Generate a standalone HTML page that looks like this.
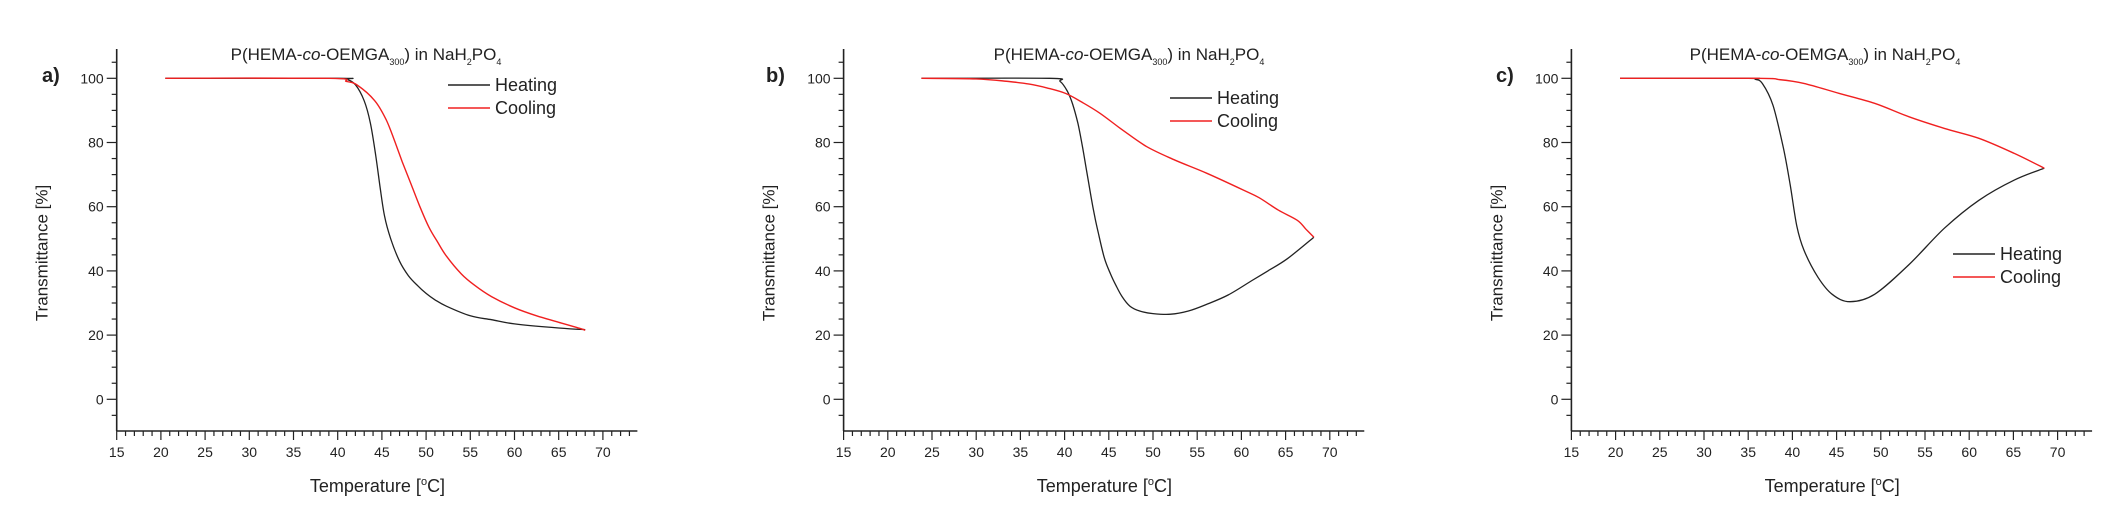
<!DOCTYPE html>
<html><head><meta charset="utf-8">
<style>
html,body{margin:0;padding:0;background:#fff;}
svg{display:block;}
text{font-family:"Liberation Sans",Arial,sans-serif;fill:#222;}
</style></head>
<body>
<svg id="s" width="2101" height="523" viewBox="0 0 2101 523" xmlns="http://www.w3.org/2000/svg"></svg>
<script>
const NS="http://www.w3.org/2000/svg";
const svg=document.getElementById('s');
function el(t,a,txt){const e=document.createElementNS(NS,t);for(const k in a)e.setAttribute(k,a[k]);if(txt!==undefined)e.textContent=txt;svg.appendChild(e);return e;}
function path(pts,X){
  const P=pts.map(p=>[X(p[0]),Y(p[1])]);
  let d="M"+P[0][0].toFixed(1)+","+P[0][1].toFixed(1);
  for(let i=0;i<P.length-1;i++){
    const p0=P[Math.max(0,i-1)],p1=P[i],p2=P[i+1],p3=P[Math.min(P.length-1,i+2)];
    const c1=[p1[0]+(p2[0]-p0[0])/6,p1[1]+(p2[1]-p0[1])/6];
    const c2=[p2[0]-(p3[0]-p1[0])/6,p2[1]-(p3[1]-p1[1])/6];
    d+=" C"+c1[0].toFixed(1)+","+c1[1].toFixed(1)+" "+c2[0].toFixed(1)+","+c2[1].toFixed(1)+" "+p2[0].toFixed(1)+","+p2[1].toFixed(1);
  }
  return d;
}
const Y=v=>399.3-v*3.21;
const panels=[
 {x0:116.7,lab:"a)",labx:42,tc:366,leg:[448,91],
  heat:[[20.5,100],[40,100],[41,99.7],[42,98],[43,93],[43.7,86],[44.3,76],[44.8,66],[45.3,57],[46,50],[47,43],[48,38.5],[49,35.5],[50,33],[51,31],[52.3,29],[55,26],[57.4,24.8],[60,23.5],[65,22.2],[68,21.7]],
  cool:[[20.5,100],[39,100],[41,99],[42.2,97.9],[44.2,93],[45.5,87],[46.5,80],[47.3,74],[48.3,67],[49.3,60],[50.3,53.7],[51.3,49],[52.3,44.6],[54,39],[55.5,35.5],[57.4,32],[60,28.5],[62.5,26],[65,24],[67.5,22],[68,21.5]]},
 {x0:843.6,lab:"b)",labx:766,tc:1129,leg:[1170,104],
  heat:[[23.8,100],[38.3,100],[39.5,99],[40.3,96],[40.9,92],[41.5,86],[42,79],[42.5,71],[43,63],[43.4,57],[43.8,52],[44.5,44],[45.2,39],[45.8,35.5],[46.5,32],[47.4,29],[48.5,27.5],[50,26.7],[52,26.5],[54,27.5],[56,29.5],[58.5,32.5],[61.2,37],[63,40],[65.2,43.8],[68.2,50.5]],
  cool:[[23.8,100],[30,99.8],[33.7,99],[36,98.2],[38,97],[40.1,95.3],[42,92.5],[44,89.1],[46.5,84],[49.3,78.7],[52.5,74.5],[56.1,70.4],[60.2,65.2],[62,62.8],[64.2,58.9],[66.3,55.8],[67.3,53],[68.2,50.5]]},
 {x0:1571.4,lab:"c)",labx:1496,tc:1825,leg:[1953,260],
  heat:[[20.5,100],[35,100],[35.8,99.7],[36.6,98.4],[37.8,91.6],[39,78],[39.75,66.8],[40.5,54],[41.3,46.5],[42.9,38],[44.5,32.7],[46.5,30.4],[49.3,32.7],[53.2,42],[57.2,53.3],[61.1,62],[65.1,68.3],[68.5,72]],
  cool:[[20.5,100],[36,100],[38.5,99.6],[41.3,98.4],[45.3,95.3],[49.3,92.2],[53.2,88],[57.2,84.4],[61.1,81.3],[65.1,76.6],[68.5,72]]}
];
panels.forEach(p=>{
  const X=t=>p.x0+(t-15)*8.84;
  const right=X(73.9), top=49, bot=431;
  el('line',{x1:p.x0,y1:top,x2:p.x0,y2:bot,stroke:'#222','stroke-width':1.6});
  el('line',{x1:p.x0,y1:bot,x2:right,y2:bot,stroke:'#222','stroke-width':1.6});
  for(let v=-5;v<=105;v+=5){
    const y=Y(v);const maj=v%20===0;
    el('line',{x1:p.x0-(maj?10:5),y1:y,x2:p.x0,y2:y,stroke:'#222','stroke-width':1.2});
    if(maj) el('text',{x:p.x0-13,y:y+5,'text-anchor':'end','font-size':14,fill:'#333'},String(v));
  }
  for(let t=15;t<=73;t++){
    const x=X(t);const maj=t%5===0;
    el('line',{x1:x,y1:bot,x2:x,y2:bot+(maj?9:5),stroke:'#222','stroke-width':1.2});
    if(maj) el('text',{x:x,y:457,'text-anchor':'middle','font-size':14,fill:'#333'},String(t));
  }
  el('text',{x:p.labx,y:82,'font-size':20,'font-weight':'bold',fill:'#111'},p.lab);
  el('text',{x:0,y:0,'text-anchor':'middle','font-size':17,transform:`translate(${p.x0-69},253) rotate(-90)`},"Transmittance [%]");
  const xl=el('text',{x:X(44.5),y:492,'text-anchor':'middle','font-size':18});
  xl.innerHTML='Temperature [<tspan font-size="11" dy="-7">o</tspan><tspan dy="7">C]</tspan>';
  const tt=el('text',{x:p.tc,y:60,'text-anchor':'middle','font-size':17});
  tt.innerHTML='P(HEMA-<tspan font-style="italic">co</tspan>-OEMGA<tspan font-size="9" dy="5">300</tspan><tspan dy="-5">) in NaH</tspan><tspan font-size="9" dy="5">2</tspan><tspan dy="-5">PO</tspan><tspan font-size="9" dy="5">4</tspan>';
  el('path',{d:path(p.heat,X),fill:'none',stroke:'#222','stroke-width':1.3});
  el('path',{d:path(p.cool,X),fill:'none',stroke:'#f02020','stroke-width':1.4});
  const [lx,ly]=p.leg;
  el('line',{x1:lx,y1:ly-6,x2:lx+42,y2:ly-6,stroke:'#222','stroke-width':1.5});
  el('text',{x:lx+47,y:ly,'font-size':18},"Heating");
  el('line',{x1:lx,y1:ly+17,x2:lx+42,y2:ly+17,stroke:'#f02020','stroke-width':1.5});
  el('text',{x:lx+47,y:ly+23,'font-size':18},"Cooling");
});
</script>
</body></html>
